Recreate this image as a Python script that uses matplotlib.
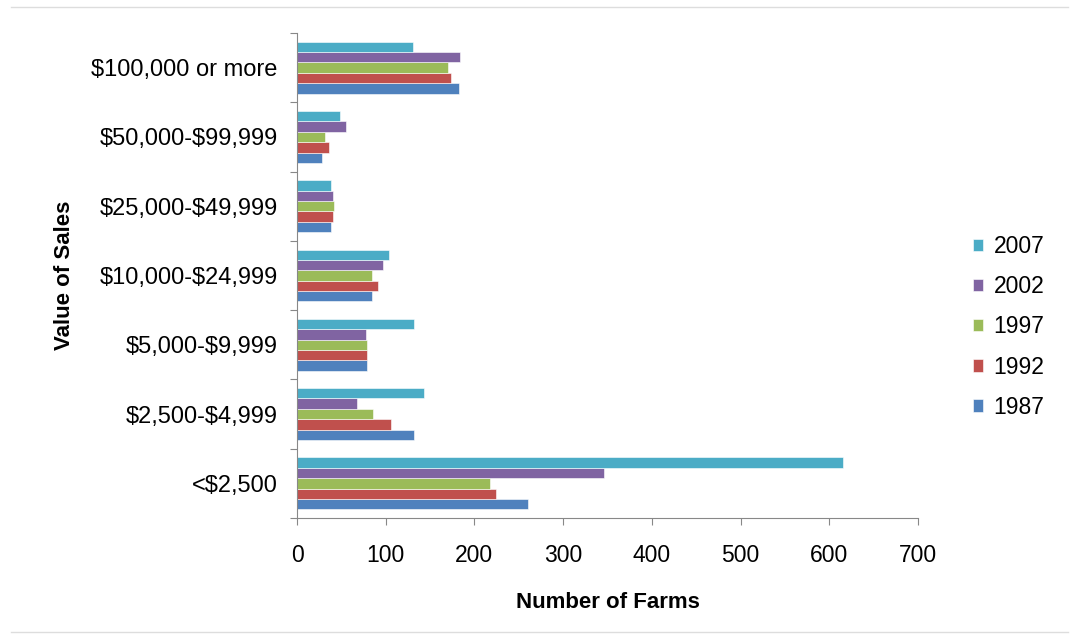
import numpy as np
import matplotlib
matplotlib.use("Agg")
import matplotlib.pyplot as plt
from matplotlib.lines import Line2D

plt.rcParams['font.family'] = ['Liberation Sans', 'DejaVu Sans']
plt.rcParams['text.parse_math'] = False

# categories from bottom to top
categories = ['<$2,500', '$2,500-$4,999', '$5,000-$9,999', '$10,000-$24,999',
              '$25,000-$49,999', '$50,000-$99,999', '$100,000 or more']
years = ['1987', '1992', '1997', '2002', '2007']
farms_1987 = [260, 132, 79, 84, 38, 28, 183]
farms_1992 = [224, 106, 79, 91, 41, 36, 174]
farms_1997 = [218, 86, 79, 84, 42, 32, 170]
farms_2002 = [346, 68, 78, 97, 41, 55, 184]
farms_2007 = [616, 143, 132, 104, 38, 48, 131]
colors = ['#4F81BD', '#C0504D', '#9BBB59', '#8064A2', '#4BACC6']

series = [farms_1987, farms_1992, farms_1997, farms_2002, farms_2007]

fig = plt.figure(figsize=(10.79, 6.4), dpi=100)
ax = fig.add_axes([297/1079, 1-518/640, (918-297)/1079, (518-33)/640])

y = np.arange(len(categories))
h = 0.15
for k, (vals, yr, c) in enumerate(zip(series, years, colors)):
    ax.barh(y + (k - 2) * h, vals, height=h, color=c, label=yr,
            edgecolor='white', linewidth=0.4)

ax.set_xlim(0, 700)
ax.set_ylim(-0.5, len(categories) - 0.5)
ax.set_xticks(np.arange(0, 701, 100))
ax.set_yticks(np.arange(-0.5, len(categories), 1.0))
ax.set_yticklabels([])
ax.set_yticks(y, minor=True)
ax.set_yticklabels(categories, minor=True)
ax.tick_params(axis='y', which='minor', length=0, pad=14, labelsize=17)
ax.tick_params(axis='y', which='major', length=5, color='#888888')
ax.tick_params(axis='x', length=5, color='#888888', labelsize=16.5, pad=14)

for s in ['top', 'right']:
    ax.spines[s].set_visible(False)
for s in ['left', 'bottom']:
    ax.spines[s].set_color('#888888')

ax.set_xlabel('Number of Farms', fontsize=16, fontweight='bold', labelpad=18)
ax.set_ylabel('Value of Sales', fontsize=16, fontweight='bold', labelpad=12)

handles, labels = ax.get_legend_handles_labels()
ax.legend(handles[::-1], labels[::-1], loc='center left', bbox_to_anchor=(1.055, 0.394),
          frameon=False, fontsize=16.5, handlelength=0.45, handleheight=0.45,
          handletextpad=0.45, labelspacing=0.75)

fig.add_artist(Line2D([0.01, 0.99], [1-7/640, 1-7/640], color='#dddddd', lw=1))
fig.add_artist(Line2D([0.01, 0.99], [1-632/640, 1-632/640], color='#dddddd', lw=1))

fig.savefig('out.png', dpi=100)
